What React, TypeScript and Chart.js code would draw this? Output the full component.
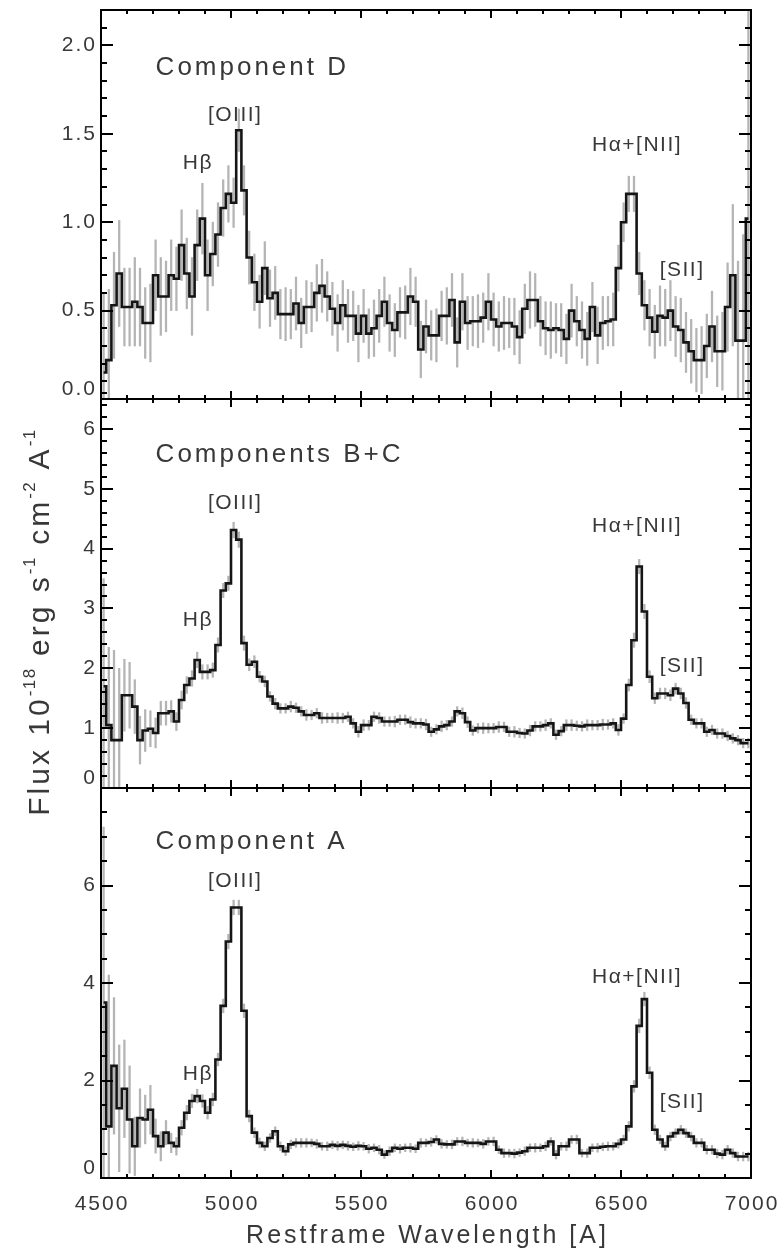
import React, { useEffect, useRef } from 'react';
import { Chart, registerables } from 'chart.js';

Chart.register(...registerables);

// ---------- DATA ----------
// bin centres (Angstrom, rest frame)
const WAVE = [
  4510, 4530, 4550, 4570, 4590, 4610, 4630, 4650, 4670, 4690,
  4710, 4730, 4750, 4770, 4790, 4810, 4830, 4850, 4870, 4890,
  4910, 4930, 4950, 4970, 4990, 5010, 5030, 5050, 5070, 5090,
  5110, 5130, 5150, 5170, 5190, 5210, 5230, 5250, 5270, 5290,
  5310, 5330, 5350, 5370, 5390, 5410, 5430, 5450, 5470, 5490,
  5510, 5530, 5550, 5570, 5590, 5610, 5630, 5650, 5670, 5690,
  5710, 5730, 5750, 5770, 5790, 5810, 5830, 5850, 5870, 5890,
  5910, 5930, 5950, 5970, 5990, 6010, 6030, 6050, 6070, 6090,
  6110, 6130, 6150, 6170, 6190, 6210, 6230, 6250, 6270, 6290,
  6310, 6330, 6350, 6370, 6390, 6410, 6430, 6450, 6470, 6490,
  6510, 6530, 6550, 6570, 6590, 6610, 6630, 6650, 6670, 6690,
  6710, 6730, 6750, 6770, 6790, 6810, 6830, 6850, 6870, 6890,
  6910, 6930, 6950, 6970, 6990,
];

// Component D
const FLUX_D = [
  0.15, 0.22, 0.53, 0.71, 0.52, 0.52, 0.55, 0.52, 0.43, 0.43,
  0.70, 0.58, 0.58, 0.70, 0.68, 0.87, 0.71, 0.58, 0.87, 1.02,
  0.70, 0.82, 0.93, 1.08, 1.16, 1.11, 1.52, 1.18, 0.80, 0.66,
  0.55, 0.74, 0.57, 0.60, 0.48, 0.48, 0.48, 0.54, 0.43, 0.52,
  0.52, 0.60, 0.64, 0.58, 0.51, 0.43, 0.53, 0.47, 0.47, 0.37,
  0.47, 0.37, 0.40, 0.47, 0.55, 0.43, 0.39, 0.49, 0.49, 0.58,
  0.55, 0.28, 0.41, 0.36, 0.36, 0.47, 0.47, 0.56, 0.32, 0.55,
  0.43, 0.44, 0.44, 0.46, 0.55, 0.45, 0.41, 0.43, 0.43, 0.41,
  0.35, 0.51, 0.56, 0.56, 0.44, 0.40, 0.39, 0.40, 0.39, 0.34,
  0.50, 0.44, 0.39, 0.34, 0.52, 0.36, 0.43, 0.44, 0.45, 0.74,
  1.00, 1.16, 1.16, 0.71, 0.53, 0.46, 0.38, 0.47, 0.46, 0.50,
  0.41, 0.39, 0.32, 0.27, 0.22, 0.22, 0.30, 0.41, 0.27, 0.27,
  0.52, 0.70, 0.33, 0.33, 1.02,
];
const ERR_D = [
  0.45, 0.40, 0.30, 0.30, 0.22, 0.22, 0.25, 0.22, 0.20, 0.22,
  0.20, 0.22, 0.20, 0.20, 0.18, 0.20, 0.20, 0.22, 0.20, 0.20,
  0.20, 0.18, 0.18, 0.16, 0.16, 0.14, 0.12, 0.14, 0.15, 0.16,
  0.15, 0.15, 0.16, 0.15, 0.14, 0.15, 0.14, 0.15, 0.14, 0.15,
  0.14, 0.16, 0.15, 0.14, 0.15, 0.16, 0.14, 0.15, 0.14, 0.16,
  0.15, 0.14, 0.16, 0.15, 0.14, 0.16, 0.15, 0.14, 0.15, 0.16,
  0.14, 0.16, 0.15, 0.14, 0.15, 0.14, 0.16, 0.15, 0.14, 0.16,
  0.15, 0.14, 0.15, 0.14, 0.16, 0.15, 0.14, 0.15, 0.14, 0.16,
  0.15, 0.14, 0.16, 0.15, 0.14, 0.15, 0.16, 0.14, 0.15, 0.14,
  0.15, 0.14, 0.16, 0.15, 0.14, 0.16, 0.15, 0.14, 0.15, 0.13,
  0.11, 0.10, 0.10, 0.12, 0.14, 0.16, 0.15, 0.17, 0.16, 0.17,
  0.17, 0.18, 0.17, 0.18, 0.18, 0.19, 0.18, 0.20, 0.20, 0.22,
  0.25, 0.40, 0.45, 0.60, 1.30,
];

// Components B+C
const FLUX_BC = [
  1.70, 1.05, 0.80, 0.80, 1.55, 1.55, 1.36, 0.80, 0.96, 0.99,
  0.92, 1.25, 1.25, 1.28, 1.11, 1.47, 1.72, 1.83, 2.14, 1.94,
  1.94, 1.97, 2.39, 3.30, 3.42, 4.31, 4.15, 2.42, 2.06, 2.11,
  1.86, 1.78, 1.53, 1.41, 1.33, 1.33, 1.36, 1.34, 1.28, 1.22,
  1.22, 1.25, 1.17, 1.17, 1.17, 1.17, 1.17, 1.19, 1.08, 0.94,
  1.05, 1.05, 1.19, 1.17, 1.11, 1.11, 1.11, 1.14, 1.14, 1.10,
  1.08, 1.08, 1.06, 0.94, 0.98, 1.03, 1.05, 1.11, 1.28, 1.25,
  1.10, 0.96, 1.00, 1.00, 1.00, 1.00, 1.02, 1.02, 0.94, 0.94,
  0.92, 0.91, 0.96, 1.03, 1.03, 1.05, 1.08, 0.89, 0.95, 1.05,
  1.05, 1.04, 1.03, 1.05, 1.05, 1.05, 1.06, 1.06, 1.08, 0.97,
  1.16, 1.72, 2.47, 3.70, 2.95, 1.86, 1.50, 1.58, 1.58, 1.55,
  1.66, 1.58, 1.42, 1.14, 1.08, 1.08, 0.94, 0.97, 0.91, 0.91,
  0.87, 0.83, 0.80, 0.75, 0.75,
];
const ERR_BC = [
  1.80, 1.30, 1.50, 1.20, 0.60, 0.55, 0.45, 0.40, 0.35, 0.30,
  0.25, 0.20, 0.20, 0.18, 0.15, 0.15, 0.14, 0.13, 0.13, 0.12,
  0.12, 0.12, 0.12, 0.12, 0.12, 0.13, 0.13, 0.12, 0.10, 0.10,
  0.09, 0.09, 0.08, 0.09, 0.08, 0.08, 0.09, 0.08, 0.08, 0.09,
  0.08, 0.08, 0.09, 0.08, 0.08, 0.09, 0.08, 0.08, 0.08, 0.09,
  0.09, 0.08, 0.08, 0.09, 0.08, 0.08, 0.09, 0.08, 0.08, 0.09,
  0.08, 0.08, 0.09, 0.08, 0.08, 0.09, 0.08, 0.08, 0.08, 0.09,
  0.09, 0.08, 0.08, 0.09, 0.08, 0.08, 0.09, 0.08, 0.08, 0.09,
  0.08, 0.08, 0.09, 0.08, 0.08, 0.09, 0.08, 0.08, 0.08, 0.09,
  0.09, 0.08, 0.08, 0.09, 0.08, 0.08, 0.09, 0.08, 0.08, 0.09,
  0.08, 0.10, 0.12, 0.12, 0.12, 0.10, 0.09, 0.09, 0.09, 0.09,
  0.09, 0.09, 0.09, 0.08, 0.08, 0.08, 0.08, 0.08, 0.08, 0.08,
  0.08, 0.08, 0.08, 0.08, 0.08,
];

// Component A
const FLUX_A = [
  3.60, 1.06, 2.30, 1.43, 1.83, 1.20, 0.65, 1.23, 1.20, 1.40,
  0.86, 0.65, 0.93, 0.72, 0.65, 1.03, 1.34, 1.58, 1.68, 1.58,
  1.34, 1.61, 2.43, 3.53, 4.85, 5.55, 5.55, 3.43, 1.27, 0.93,
  0.72, 0.65, 0.82, 0.96, 0.65, 0.55, 0.69, 0.72, 0.72, 0.72,
  0.72, 0.70, 0.65, 0.65, 0.68, 0.66, 0.68, 0.66, 0.64, 0.66,
  0.65, 0.60, 0.62, 0.58, 0.48, 0.55, 0.62, 0.60, 0.62, 0.62,
  0.60, 0.72, 0.72, 0.74, 0.79, 0.70, 0.69, 0.69, 0.75, 0.75,
  0.72, 0.72, 0.72, 0.70, 0.75, 0.75, 0.58, 0.51, 0.51, 0.50,
  0.52, 0.55, 0.62, 0.62, 0.62, 0.65, 0.75, 0.48, 0.65, 0.65,
  0.79, 0.79, 0.51, 0.51, 0.62, 0.62, 0.64, 0.65, 0.65, 0.70,
  0.79, 1.06, 1.88, 3.12, 3.67, 2.16, 0.99, 0.79, 0.65, 0.85,
  0.92, 0.99, 0.92, 0.85, 0.72, 0.72, 0.58, 0.58, 0.50, 0.48,
  0.58, 0.51, 0.44, 0.44, 0.44,
];
const ERR_A = [
  3.60, 3.10, 1.40, 1.30, 1.00, 1.10, 0.60, 0.60, 0.50, 0.50,
  0.35, 0.30, 0.25, 0.20, 0.18, 0.15, 0.15, 0.14, 0.14, 0.13,
  0.13, 0.13, 0.13, 0.14, 0.15, 0.15, 0.15, 0.14, 0.12, 0.10,
  0.10, 0.09, 0.09, 0.09, 0.09, 0.09, 0.09, 0.09, 0.09, 0.09,
  0.08, 0.09, 0.08, 0.09, 0.08, 0.09, 0.08, 0.09, 0.08, 0.09,
  0.08, 0.09, 0.08, 0.09, 0.08, 0.09, 0.08, 0.09, 0.08, 0.09,
  0.08, 0.09, 0.08, 0.09, 0.08, 0.09, 0.08, 0.09, 0.08, 0.09,
  0.08, 0.09, 0.08, 0.09, 0.08, 0.09, 0.08, 0.09, 0.08, 0.09,
  0.08, 0.09, 0.08, 0.09, 0.08, 0.09, 0.08, 0.09, 0.08, 0.09,
  0.08, 0.09, 0.08, 0.09, 0.08, 0.09, 0.08, 0.09, 0.08, 0.09,
  0.09, 0.10, 0.12, 0.14, 0.14, 0.12, 0.10, 0.09, 0.09, 0.09,
  0.09, 0.09, 0.09, 0.09, 0.09, 0.09, 0.09, 0.09, 0.09, 0.09,
  0.09, 0.09, 0.09, 0.09, 0.09,
];

// axes
const X_MIN = 4500;
const X_MAX = 7000;
const X_TICKS = [4500, 5000, 5500, 6000, 6500, 7000];
const X_TICK_LABELS = ['4500', '5000', '5500', '6000', '6500', '7000'];
const X_MINOR_STEP = 100;

const Y_TICKS_D = [0, 0.5, 1.0, 1.5, 2.0];
const Y_LABELS_D = ['0.0', '0.5', '1.0', '1.5', '2.0'];
const Y_TICKS_BC = [0, 1, 2, 3, 4, 5, 6];
const Y_LABELS_BC = ['0', '1', '2', '3', '4', '5', '6'];
const Y_TICKS_A = [0, 2, 4, 6];
const Y_LABELS_A = ['0', '2', '4', '6'];

const TITLE_D = 'Component D';
const TITLE_BC = 'Components B+C';
const TITLE_A = 'Component A';
const LINE_LABELS = ['[OIII]', 'H\u03b2', 'H\u03b1+[NII]', '[SII]'];
const X_TITLE = 'Restframe Wavelength [A]';
const Y_TITLE_PARTS = [
  ['Flux 10', false], ['-18', true], [' erg s', false], ['-1', true],
  [' cm', false], ['-2', true], [' A', false], ['-1', true],
];

// annotation anchors (data coordinates) and panel layout
const LABEL_POS_D = [[5013, 1.57], [4870, 1.30], [6559, 1.40], [6732, 0.695]];
const LABEL_POS_BC = [[5013, 4.66], [4870, 2.71], [6559, 4.27], [6732, 1.93]];
const LABEL_POS_A = [[5013, 5.97], [4870, 2.02], [6559, 4.00], [6732, 1.44]];

const W = 780;
const H = 1256;
const PLOT_LEFT = 101;
const PLOT_RIGHT = 751;

const PANELS = [
  { flux: FLUX_D, err: ERR_D, yMax: 2.2, yTicks: Y_TICKS_D, yLabels: Y_LABELS_D, yMinor: 0.1,
    title: TITLE_D, titlePos: [4710, 1.83], labelPos: LABEL_POS_D, top: 10, bottom: 399, last: false },
  { flux: FLUX_BC, err: ERR_BC, yMax: 6.5, yTicks: Y_TICKS_BC, yLabels: Y_LABELS_BC, yMinor: 0.2,
    title: TITLE_BC, titlePos: [4710, 5.44], labelPos: LABEL_POS_BC, top: 399, bottom: 788, last: false },
  { flux: FLUX_A, err: ERR_A, yMax: 8, yTicks: Y_TICKS_A, yLabels: Y_LABELS_A, yMinor: 0.5,
    title: TITLE_A, titlePos: [4710, 6.74], labelPos: LABEL_POS_A, top: 788, bottom: 1178, last: true },
];

const FONT = '"Liberation Sans", Arial, Helvetica, sans-serif';
const TEXT_COLOR = '#383838';

function drawText(ctx: any, text: string, x: number, y: number, size: number, spacing: number,
  align: string, baseline: string) {
  ctx.save();
  ctx.font = `${size}px ${FONT}`;
  ctx.letterSpacing = `${spacing}px`;
  ctx.fillStyle = TEXT_COLOR;
  ctx.textAlign = align;
  ctx.textBaseline = baseline;
  const dx = align === 'center' ? spacing / 2 : align === 'right' ? spacing : 0;
  ctx.fillText(text, x + dx, y);
  ctx.restore();
}

function makeDecor(p: any, idx: number) {
  return {
    id: 'decor' + idx,
    afterDraw(chart: any) {
      const { ctx, chartArea: a, scales } = chart;
      const xs = scales.x;
      const ys = scales.y;
      ctx.save();
      ctx.strokeStyle = '#000';
      ctx.lineWidth = 2;
      ctx.beginPath();
      const nx = Math.round((X_MAX - X_MIN) / X_MINOR_STEP);
      for (let k = 0; k <= nx; k++) {
        const v = X_MIN + k * X_MINOR_STEP;
        const major = X_TICKS.includes(v);
        const len = major ? 8 : 4;
        const px = Math.round(xs.getPixelForValue(v));
        ctx.moveTo(px, a.bottom);
        ctx.lineTo(px, a.bottom - len);
        ctx.moveTo(px, a.top);
        ctx.lineTo(px, a.top + len);
      }
      const ny = Math.round(p.yMax / p.yMinor);
      for (let k = 0; k <= ny; k++) {
        const v = k * p.yMinor;
        const major = p.yTicks.some((t: number) => Math.abs(t - v) < 1e-6);
        const len = major ? 12 : 6;
        const py = Math.round(ys.getPixelForValue(v));
        ctx.moveTo(a.left, py);
        ctx.lineTo(a.left + len, py);
        ctx.moveTo(a.right, py);
        ctx.lineTo(a.right - len, py);
      }
      ctx.stroke();
      ctx.strokeRect(a.left, a.top, a.right - a.left, a.bottom - a.top);
      ctx.restore();

      // y tick labels
      p.yTicks.forEach((t: number, i: number) => {
        const py = ys.getPixelForValue(t);
        if (t === 0) drawText(ctx, p.yLabels[i], a.left - 6, py + 1, 21, 2, 'right', 'bottom');
        else drawText(ctx, p.yLabels[i], a.left - 6, py, 21, 2, 'right', 'middle');
      });

      // panel title
      drawText(ctx, p.title, xs.getPixelForValue(p.titlePos[0]), ys.getPixelForValue(p.titlePos[1]),
        26, 3, 'left', 'alphabetic');

      // line labels
      LINE_LABELS.forEach((lab, i) => {
        const [lx, ly] = p.labelPos[i];
        drawText(ctx, lab, xs.getPixelForValue(lx), ys.getPixelForValue(ly), 21, 1.5, 'center', 'alphabetic');
      });

      if (p.last) {
        X_TICKS.forEach((t, i) => {
          drawText(ctx, X_TICK_LABELS[i], xs.getPixelForValue(t), a.bottom + 16, 21, 2, 'center', 'top');
        });
        drawText(ctx, X_TITLE, (a.left + a.right) / 2, 1243, 25, 3, 'center', 'alphabetic');

        // y axis title (rotated)
        ctx.save();
        ctx.translate(49, 622);
        ctx.rotate(-Math.PI / 2);
        ctx.fillStyle = TEXT_COLOR;
        ctx.textBaseline = 'alphabetic';
        ctx.textAlign = 'left';
        const mainSize = 30;
        const supSize = 17;
        const widths = Y_TITLE_PARTS.map(([txt, sup]) => {
          ctx.font = `${sup ? supSize : mainSize}px ${FONT}`;
          ctx.letterSpacing = sup ? '1.5px' : '3px';
          return ctx.measureText(txt as string).width;
        });
        const total = widths.reduce((s, w) => s + w, 0);
        let x = -total / 2;
        Y_TITLE_PARTS.forEach(([txt, sup], i) => {
          ctx.font = `${sup ? supSize : mainSize}px ${FONT}`;
          ctx.letterSpacing = sup ? '1.5px' : '3px';
          ctx.fillText(txt as string, x, sup ? -14 : 0);
          x += widths[i];
        });
        ctx.restore();
      }
    },
  };
}

function Panel({ p, idx }: { p: any; idx: number }) {
  const ref = useRef<HTMLCanvasElement | null>(null);
  useEffect(() => {
    if (!ref.current) return;
    const errData = WAVE.map((w, i) => ({ x: w, y: [p.flux[i] - p.err[i], p.flux[i] + p.err[i]] }));
    const lineData = WAVE.map((w, i) => ({ x: w, y: p.flux[i] }));
    const chart = new Chart(ref.current, {
      type: 'line',
      data: {
        datasets: [
          {
            type: 'bar',
            data: errData as any,
            backgroundColor: '#b4b4b4',
            borderWidth: 0,
            barThickness: 1.6,
            order: 2,
          } as any,
          {
            type: 'line',
            data: lineData,
            borderColor: '#151515',
            borderWidth: 2.6,
            pointRadius: 0,
            stepped: 'middle',
            fill: false,
            order: 1,
          } as any,
        ],
      },
      options: {
        responsive: false,
        animation: false,
        devicePixelRatio: 1,
        events: [],
        layout: { padding: { left: PLOT_LEFT, right: W - PLOT_RIGHT, top: p.top, bottom: H - p.bottom } },
        plugins: { legend: { display: false }, tooltip: { enabled: false } },
        scales: {
          x: { type: 'linear', min: X_MIN, max: X_MAX, offset: false, display: false },
          y: { type: 'linear', min: 0, max: p.yMax, display: false },
        },
      },
      plugins: [makeDecor(p, idx)],
    } as any);
    return () => chart.destroy();
  }, [p, idx]);
  return (
    <canvas
      ref={ref}
      width={W}
      height={H}
      style={{ position: 'absolute', left: 0, top: 0, width: W, height: H }}
    />
  );
}

export default function App() {
  return (
    <div style={{ position: 'absolute', left: 0, top: 0, width: W, height: H, background: '#fff', overflow: 'hidden' }}>
      {PANELS.map((p, i) => (
        <Panel key={i} p={p} idx={i} />
      ))}
    </div>
  );
}
